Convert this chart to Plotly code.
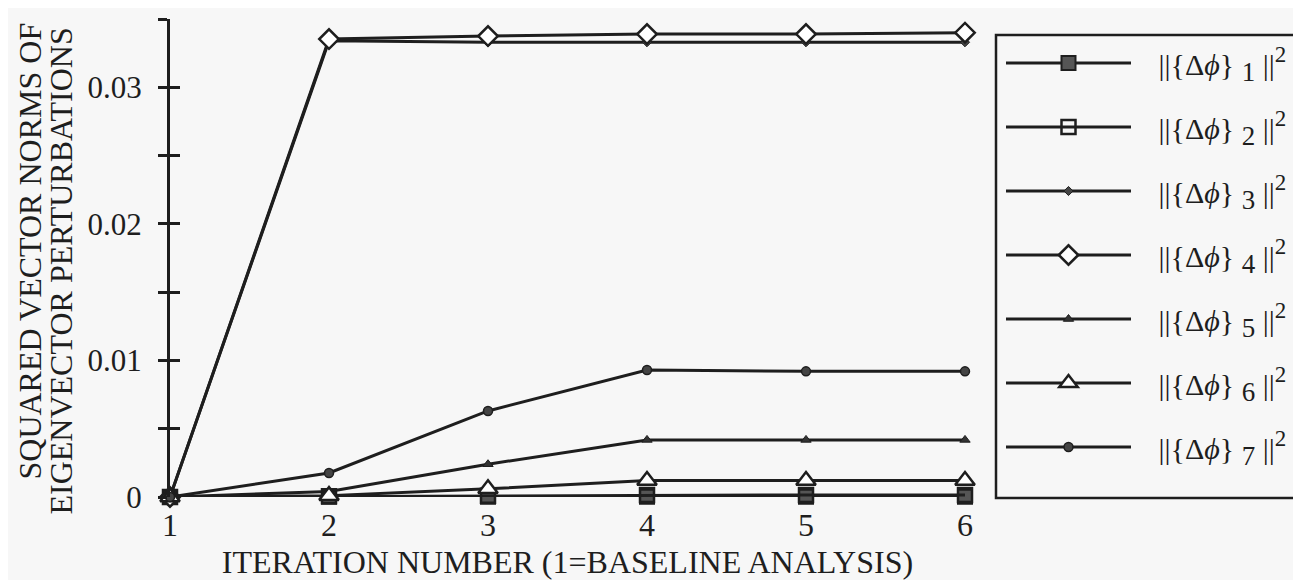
import plotly.graph_objects as go

iterations = [1, 2, 3, 4, 5, 6]
phi1 = [0.0, 0.00002, 0.00002, 0.00002, 0.00002, 0.00002]
phi2 = [0.0, 0.00005, 0.0001, 0.00015, 0.00015, 0.00015]
phi3 = [0.0, 0.0334, 0.0333, 0.0333, 0.0333, 0.0333]
phi4 = [0.0, 0.03353, 0.03375, 0.0339, 0.0339, 0.0340]
phi5 = [0.0, 0.0004, 0.0024, 0.00418, 0.00418, 0.00418]
phi6 = [0.0, 0.0001, 0.0006, 0.0012, 0.0012, 0.0012]
phi7 = [0.0, 0.00176, 0.0063, 0.0093, 0.0092, 0.0092]

series = [phi1, phi2, phi3, phi4, phi5, phi6, phi7]
y_tickvals = [0, 0.005, 0.01, 0.015, 0.02, 0.025, 0.03, 0.035]
y_ticktext = ["0", " ", "0.01", " ", "0.02", " ", "0.03", " "]
x_tickvals = [1, 2, 3, 4, 5, 6]

INK = "#1e1e1e"
BG = "#f7f7f7"
FONT = "Liberation Serif"

marker_styles = [
    dict(symbol="square", size=14, color="#555555", line=dict(color=INK, width=2)),
    dict(symbol="square-open", size=14, color=INK, line=dict(color=INK, width=2.5)),
    dict(symbol="diamond", size=7, color="#444444", line=dict(color=INK, width=1)),
    dict(symbol="diamond", size=15, color="white", line=dict(color=INK, width=2.5)),
    dict(symbol="triangle-up", size=9, color="#333333", line=dict(color=INK, width=1)),
    dict(symbol="triangle-up", size=17, color="white", line=dict(color=INK, width=2.5)),
    dict(symbol="circle", size=9, color="#444444", line=dict(color=INK, width=1.5)),
]

def legend_label(k):
    return ("\u00a0\u00a0\u00a0||{\u0394<i>\u03d5</i>}\u00a0"
            "<sub><span style='font-size:27px'>%d</span></sub>"
            "\u00a0||<sup><span style='font-size:23px'>2</span></sup>" % k)

fig = go.Figure()
for i, (vals, mk) in enumerate(zip(series, marker_styles)):
    fig.add_trace(go.Scatter(
        x=iterations, y=vals, mode="lines+markers",
        name=legend_label(i + 1),
        line=dict(color=INK, width=3),
        marker=mk, cliponaxis=False,
        legendgroup="g%d" % i,
    ))

# invisible trace to carry the crossing-tick axis
fig.add_trace(go.Scatter(x=[1], y=[0], yaxis="y2", mode="markers",
                         marker=dict(opacity=0), showlegend=False, hoverinfo="skip"))

L, T, W, H = 162, 11, 795, 478
fig.update_layout(
    width=1301, height=580,
    margin=dict(l=L, r=1301 - L - W, t=T, b=580 - T - H),
    paper_bgcolor=BG, plot_bgcolor=BG,
    font=dict(family=FONT, color=INK, size=31),
    showlegend=True,
    legend=dict(
        x=(993 - L) / W, y=(489 - 29) / H, xanchor="left", yanchor="top",
        bgcolor="rgba(0,0,0,0)", borderwidth=0,
        font=dict(family=FONT, size=30, color=INK),
        itemwidth=125, tracegroupgap=22,
    ),
    xaxis=dict(
        range=[1, 6], tickvals=x_tickvals, ticks="", showline=False,
        showgrid=False, zeroline=False, tickfont=dict(size=32),
        ticklabelstandoff=6,
        title=dict(text="ITERATION NUMBER (1=BASELINE ANALYSIS)",
                   font=dict(size=32), standoff=8),
    ),
    yaxis=dict(
        range=[0, 0.035], tickvals=y_tickvals, ticktext=y_ticktext,
        ticks="outside", ticklen=9, tickwidth=2.5, tickcolor=INK,
        showline=True, linecolor=INK, linewidth=3,
        showgrid=False, zeroline=False, tickfont=dict(size=31),
        ticklabelstandoff=10,
    ),
    yaxis2=dict(
        range=[0, 0.035], overlaying="y", side="left", anchor="x",
        tickvals=y_tickvals, showticklabels=False,
        ticks="inside", ticklen=10, tickwidth=2.5, tickcolor=INK,
        showline=False, showgrid=False, zeroline=False,
    ),
    shapes=[dict(type="rect", xref="paper", yref="paper",
                 x0=(988 - L) / W, x1=(1299 - L) / W,
                 y0=(489 - 490) / H, y1=(489 - 27) / H,
                 line=dict(color=INK, width=2.5), fillcolor="rgba(0,0,0,0)")],
    annotations=[
        dict(text="SQUARED VECTOR NORMS OF", textangle=-90,
             xref="paper", yref="paper", x=(22 - L) / W, y=(489 - 13) / H,
             xanchor="center", yanchor="top", showarrow=False,
             font=dict(size=32, family=FONT, color=INK)),
        dict(text="EIGENVECTOR PERTURBATIONS", textangle=-90,
             xref="paper", yref="paper", x=(52 - L) / W, y=(489 - 18) / H,
             xanchor="center", yanchor="top", showarrow=False,
             font=dict(size=32, family=FONT, color=INK)),
    ],
)

fig.write_html("out.html")
